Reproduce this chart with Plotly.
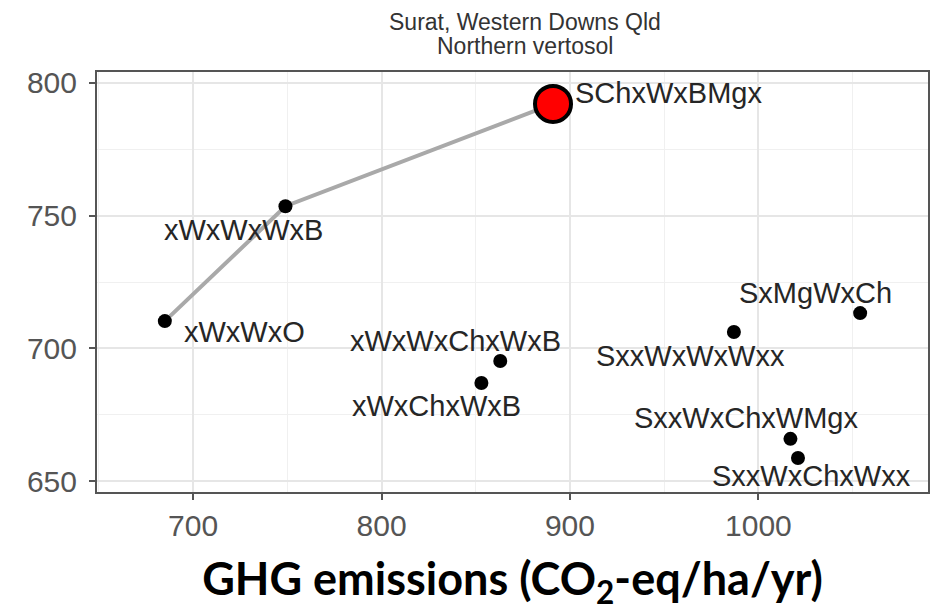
import plotly.graph_objects as go

# ---- data ----
names = ["xWxWxO", "xWxWxWxB", "SChxWxBMgx", "xWxWxChxWxB", "xWxChxWxB",
         "SxxWxWxWxx", "SxMgWxCh", "SxxWxChxWMgx", "SxxWxChxWxx"]
ghg = [685, 749, 891, 863, 853, 987, 1054, 1017, 1021]
yld = [710.3, 753.5, 792, 695.3, 687, 706.2, 713.3, 666, 658.8]
frontier = ["xWxWxO", "xWxWxWxB", "SChxWxBMgx"]
best = "SChxWxBMgx"

x_ticks = [700, 800, 900, 1000]
y_ticks = [650, 700, 750, 800]
title_lines = ["Surat, Western Downs Qld", "Northern vertosol"]

# label placement (anchor, x offset px, y offset px) -- style only
label_place = {
    "xWxWxO": ("left", 17, -11),
    "xWxWxWxB": ("center", -42, -24),
    "SChxWxBMgx": ("left", 20, 11),
    "xWxWxChxWxB": ("center", -45, 20),
    "xWxChxWxB": ("center", -45, -23),
    "SxxWxWxWxx": ("center", -43, -24),
    "SxMgWxCh": ("center", -45, 20),
    "SxxWxChxWMgx": ("center", -44, 21),
    "SxxWxChxWxx": ("center", 14, -18),
}

idx = {n: i for i, n in enumerate(names)}
fx = [ghg[idx[n]] for n in frontier]
fy = [yld[idx[n]] for n in frontier]

fig = go.Figure()
fig.add_trace(go.Scatter(x=fx, y=fy, mode="lines",
                         line=dict(color="#a9a9a9", width=4), hoverinfo="skip"))
others = [n for n in names if n != best]
fig.add_trace(go.Scatter(x=[ghg[idx[n]] for n in others], y=[yld[idx[n]] for n in others],
                         mode="markers", marker=dict(color="black", size=14)))
fig.add_trace(go.Scatter(x=[ghg[idx[best]]], y=[yld[idx[best]]], mode="markers",
                         marker=dict(color="#ff0000", size=36,
                                     line=dict(color="black", width=4))))

for n in names:
    anc, dx, dy = label_place[n]
    fig.add_annotation(x=ghg[idx[n]], y=yld[idx[n]], text=n, showarrow=False,
                       xshift=dx, yshift=dy, xanchor=anc, yanchor="middle",
                       font=dict(family="Liberation Sans, Arial", size=29, color="#262626"))

# two-line title above the panel
for i, t in enumerate(title_lines):
    fig.add_annotation(x=0.5, xref="paper", y=1, yref="paper", text=t, showarrow=False,
                       xanchor="center", yanchor="middle", xshift=12, yshift=50 - 24 * i,
                       font=dict(family="Liberation Sans, Arial", size=23, color="#333333"))

fig.update_layout(
    width=932, height=614,
    paper_bgcolor="white", plot_bgcolor="white",
    showlegend=False,
    margin=dict(l=97, r=4, t=72, b=122),
)

axis_common = dict(showline=True, mirror=True, linecolor="#555555", linewidth=2,
                   ticks="outside", ticklen=6, tickwidth=2, tickcolor="#555555",
                   showgrid=True, gridcolor="#e6e6e6", gridwidth=1.5, zeroline=False,
                   automargin=False,
                   tickfont=dict(family="Liberation Sans, Arial", size=30, color="#555555"))

fig.update_xaxes(range=[649, 1090], tickvals=x_ticks,
                 minor=dict(tickvals=[650, 750, 850, 950, 1050], showgrid=True,
                            gridcolor="#f0f0f0", gridwidth=1, ticks=""),
                 title=dict(text="<b>GHG emissions (CO<sub>2</sub>-eq/ha/yr)</b>",
                            font=dict(family="Lato", size=45, color="black"), standoff=22),
                 **axis_common)
fig.update_yaxes(range=[646, 804], tickvals=y_ticks, ticklabelstandoff=6,
                 minor=dict(tickvals=[675, 725, 775], showgrid=True,
                            gridcolor="#f0f0f0", gridwidth=1, ticks=""),
                 **axis_common)

fig.write_html("out.html", config={"displayModeBar": False},
               post_script="document.body.style.margin='0';")
